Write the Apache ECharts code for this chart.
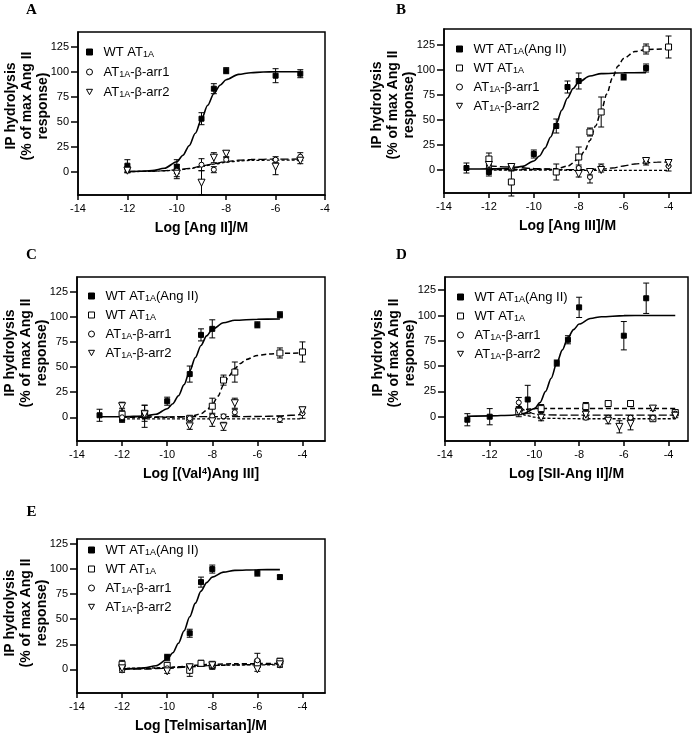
<!DOCTYPE html>
<html><head><meta charset="utf-8">
<script src="https://cdn.jsdelivr.net/npm/echarts@6/dist/echarts.min.js"></script>
<style>html,body{margin:0;padding:0;background:#fff}#c{width:693px;height:735px}</style>
</head><body><div id="c"></div><script>
// ---------- tick labels / text ----------
const xTickValues = [-14, -12, -10, -8, -6, -4];
const yTickValues = [0, 25, 50, 75, 100, 125];
const panelLetters = ['A', 'B', 'C', 'D', 'E'];
const xTitles = ['Log [Ang II]/M', 'Log [Ang III]/M', 'Log [(Val{sup|4})Ang III]', 'Log [SII-Ang II]/M', 'Log [Telmisartan]/M'];
const yTitle = 'IP hydrolysis\n(% of max Ang II\nresponse)';
const legendA = ['WT AT{s|1A}', 'AT{s|1A}-β-arr1', 'AT{s|1A}-β-arr2'];
const legendBE = ['WT AT{s|1A}(Ang II)', 'WT AT{s|1A}', 'AT{s|1A}-β-arr1', 'AT{s|1A}-β-arr2'];

// ---------- data: [log conc, mean, error] ----------
const A_wt   = [[-12,6,6],[-10,5,7],[-9,53,6],[-8.5,83,5],[-8,101,3],[-6,96,7],[-5,98,4]];
const A_arr1 = [[-12,2,3],[-10,1,6],[-9,7,6],[-8.5,2,3],[-8,12,2],[-6,12,3],[-5,15,4]];
const A_arr2 = [[-12,1,2],[-10,-2,5],[-9,-11,12],[-8.5,14,5],[-8,18,3],[-6,5,8],[-5,11,3]];

const B_wtAng = [[-13,2,5],[-12,-2,4],[-11,2,3],[-10,16,4],[-9,44,7],[-8.5,83,6],[-8,89,8],[-6,93,3],[-5,102,4]];
const B_wt    = [[-12,11,6],[-11,-12,14],[-9,-2,8],[-8,13,10],[-7.5,38,4],[-7,58,15],[-5,121,5],[-4,123,11]];
const B_arr1  = [[-12,4,2],[-11,2,2],[-8,2,3],[-7.5,-7,6],[-7,3,3],[-5,8,3],[-4,4,5]];
const B_arr2  = [[-12,5,3],[-11,3,2],[-8,-4,3],[-7.5,-2,3],[-7,0,2],[-5,9,2],[-4,7,3]];

const C_wtAng = [[-13,2,6],[-12,-2,3],[-11,1,11],[-10,16,4],[-9,43,8],[-8.5,82,6],[-8,88,9],[-6,92,3],[-5,102,3]];
const C_wt    = [[-12,3,6],[-11,4,8],[-9,-1,2],[-8,11,8],[-7.5,37,5],[-7,45,10],[-5,64,5],[-4,65,10]];
const C_arr1  = [[-12,0,2],[-11,2,2],[-9,-1,2],[-8,1,3],[-7.5,1,2],[-7,5,3],[-5,-2,3],[-4,4,5]];
const C_arr2  = [[-12,11,4],[-11,3,3],[-9,-9,3],[-8,-4,5],[-7.5,-9,4],[-7,14,5],[-4,7,3]];

const D_wtAng = [[-13,-3,6],[-12,0,8],[-10.3,17,14],[-9,53,3],[-8.5,76,4],[-8,108,10],[-6,80,14],[-5,117,15]];
const D_wt    = [[-10.7,5,5],[-9.7,8,4],[-7.7,10,4],[-6.7,13,3],[-5.7,13,3],[-4.7,-2,2],[-3.7,4,3]];
const D_arr1  = [[-10.7,14,5],[-9.7,1,3],[-7.7,-1,2],[-6.7,-1,2],[-5.7,-1,2],[-4.7,-1,2],[-3.7,3,2]];
const D_arr2  = [[-10.7,5,3],[-9.7,-1,3],[-7.7,2,3],[-6.7,-4,3],[-6.2,-10,6],[-5.7,-7,6],[-4.7,8,2],[-3.7,1,2]];

const E_wtAng = [[-12,1,2],[-10,12,3],[-9,36,4],[-8.5,87,5],[-8,100,4],[-6,96,3],[-5,92,2]];
const E_wt    = [[-12,5,4],[-10,4,3],[-9,-1,6],[-8.5,6,3],[-8,4,4],[-6,6,4],[-5,8,3]];
const E_arr1  = [[-12,-1,2],[-10,1,2],[-9,3,2],[-8,3,2],[-6,9,7],[-5,4,2]];
const E_arr2  = [[-12,1,2],[-10,-2,2],[-9,2,2],[-8,4,2],[-6,0,2],[-5,5,2]];

// ---------- fitted curves: [log conc, value] ----------
const A_wt_fit   = [[-12,0],[-11.5,0.4],[-11,1.1],[-10.5,3.4],[-10,10],[-9.75,16.5],[-9.5,26],[-9.25,38.5],[-9,52.5],[-8.75,66.5],[-8.5,78],[-8.25,86.5],[-8,92],[-7.5,97.3],[-7,99],[-6.5,99.7],[-6,100],[-5,100]];
const A_arr1_fit = [[-12,0.2],[-11,0.5],[-10.5,1],[-10,1.8],[-9.5,3.3],[-9,5.5],[-8.5,8],[-8,10.2],[-7.5,11.5],[-7,12.2],[-6,12.6],[-5,12.7]];
const A_arr2_fit = [[-12,0],[-11,0.4],[-10.5,0.9],[-10,1.6],[-9.5,3],[-9,5],[-8.5,7.5],[-8,9.5],[-7.5,10.7],[-7,11.3],[-6,11.6],[-5,11.7]];

const B_wtAng_fit = [[-13,1],[-12,1.1],[-11,1.8],[-10.5,3.6],[-10,9],[-9.75,14],[-9.5,22],[-9.25,33],[-9,46.5],[-8.75,60],[-8.5,72],[-8.25,81.5],[-8,88],[-7.5,94],[-7,96.4],[-6,97.2],[-5,97.4]];
const B_wt_fit    = [[-12,0.5],[-11,0.5],[-10,0.6],[-9,1.2],[-8.5,3.9],[-8,11],[-7.75,18.5],[-7.5,29.5],[-7.25,44],[-7,59],[-6.75,76],[-6.5,92],[-6.25,104],[-6,111.5],[-5.5,118.5],[-5,120.5],[-4,121.5]];
const B_arr1_fit  = [[-12,4],[-11,3],[-10,1.5],[-9,0.5],[-8,0.3],[-7,0.8],[-6.5,2],[-6,4],[-5.5,6],[-5,7.3],[-4.5,7.8],[-4,8]];
const B_arr2_fit  = [[-12,0],[-10,0],[-8,-0.3],[-6,-0.3],[-4,-0.3]];

const C_wtAng_fit = [[-13,0.5],[-12,0.6],[-11,1.3],[-10.5,3],[-10,8.5],[-9.75,13.5],[-9.5,21.5],[-9.25,32.5],[-9,46],[-8.75,59.5],[-8.5,71.5],[-8.25,81],[-8,87.5],[-7.5,94],[-7,96.5],[-6,97.6],[-5,97.8]];
const C_wt_fit    = [[-12,0],[-11,0],[-10,0.1],[-9,0.5],[-8.5,3.5],[-8.25,7],[-8,12.5],[-7.75,21],[-7.5,32],[-7.25,41.5],[-7,48.5],[-6.75,53.5],[-6.5,57.5],[-6,61.5],[-5.5,63],[-5,63.7],[-4,64]];
const C_arr1_fit  = [[-12,0.5],[-10,0.5],[-8,0.6],[-6,0.8],[-5,1.3],[-4.5,2],[-4,3]];
const C_arr2_fit  = [[-12,-1.5],[-10,-1.5],[-8,-1.5],[-6,-1.5],[-4,-1.5]];

const D_wtAng_fit = [[-13,0.5],[-12,0.8],[-11,1.5],[-10.5,3],[-10,8],[-9.75,14],[-9.5,25],[-9.25,38],[-9,53],[-8.75,66],[-8.5,78],[-8.25,86],[-8,91.5],[-7.5,97],[-7,98.8],[-6,99.8],[-5,100],[-3.7,100]];
const D_wt_fit    = [[-10.7,4],[-10.4,7],[-10,8],[-9,8],[-7,8],[-5,8],[-3.7,8]];
const D_arr1_fit  = [[-10.7,12],[-10.4,6],[-10,2.8],[-9.7,1.8],[-8,1.5],[-6,1.5],[-3.7,1.5]];
const D_arr2_fit  = [[-10.7,5],[-10.4,1.5],[-10,-0.5],[-9.7,-1.5],[-8,-2],[-6,-2],[-3.7,-2]];

const E_wtAng_fit = [[-12,0.5],[-11.5,0.8],[-11,1.5],[-10.5,3.6],[-10,10],[-9.75,16.5],[-9.5,26],[-9.25,38.5],[-9,52.5],[-8.75,66],[-8.5,78],[-8.25,86.5],[-8,92],[-7.5,97],[-7,98.7],[-6,99.4],[-5,99.5]];
const E_wt_fit    = [[-12,0.5],[-11,0.8],[-10,1.5],[-9.5,2.5],[-9,3.5],[-8.5,4.5],[-8,5],[-7,5.5],[-6,5.7],[-5,5.8]];
const E_arr1_fit  = [[-12,0],[-11,0.3],[-10,1],[-9,2.5],[-8,3.8],[-7,4.5],[-6,4.8],[-5,5]];
const E_arr2_fit  = [[-12,1],[-11,1.2],[-10,1.8],[-9,2.8],[-8,3.8],[-7,4.3],[-6,4.5],[-5,4.5]];

// ---------- assembly ----------
const FONT = '"Liberation Sans", Arial, Helvetica, sans-serif';
const kinds = {
  wtAng: {symbol: 'rect', size: 5, fill: '#000', dash: 'solid', width: 1.6, icon: 'rect'},
  wt:    {symbol: 'rect', size: 6, fill: '#fff', dash: [5, 3], width: 1.5, icon: 'rect'},
  arr1:  {symbol: 'circle', size: 5, fill: '#fff', dash: [8, 3], width: 1.3, icon: 'circle'},
  arr2:  {symbol: 'triangle', size: 7, rotate: 180, fill: '#fff', dash: [3, 2], width: 1.3, icon: 'path://M0,0L10,0L5,9Z'}
};
const panelSets = [
  [['wtAng', A_wt, A_wt_fit, legendA[0]], ['arr1', A_arr1, A_arr1_fit, legendA[1]], ['arr2', A_arr2, A_arr2_fit, legendA[2]]],
  [['wtAng', B_wtAng, B_wtAng_fit, legendBE[0]], ['wt', B_wt, B_wt_fit, legendBE[1]], ['arr1', B_arr1, B_arr1_fit, legendBE[2]], ['arr2', B_arr2, B_arr2_fit, legendBE[3]]],
  [['wtAng', C_wtAng, C_wtAng_fit, legendBE[0]], ['wt', C_wt, C_wt_fit, legendBE[1]], ['arr1', C_arr1, C_arr1_fit, legendBE[2]], ['arr2', C_arr2, C_arr2_fit, legendBE[3]]],
  [['wtAng', D_wtAng, D_wtAng_fit, legendBE[0]], ['wt', D_wt, D_wt_fit, legendBE[1]], ['arr1', D_arr1, D_arr1_fit, legendBE[2]], ['arr2', D_arr2, D_arr2_fit, legendBE[3]]],
  [['wtAng', E_wtAng, E_wtAng_fit, legendBE[0]], ['wt', E_wt, E_wt_fit, legendBE[1]], ['arr1', E_arr1, E_arr1_fit, legendBE[2]], ['arr2', E_arr2, E_arr2_fit, legendBE[3]]]
];
const layout = [
  {grid: {left: 78, top: 32, width: 247, height: 163}, x: [-14, -4], y: [-23.3, 139.7], leg: {left: 86, top: 45, gap: 6}, letter: [31.5, 10], yt: [27, 106]},
  {grid: {left: 444, top: 29, width: 247, height: 164}, x: [-14, -3], y: [-23, 141], leg: {left: 456, top: 42, gap: 5}, letter: [401, 10.5], yt: [393, 105]},
  {grid: {left: 77, top: 277, width: 248, height: 164}, x: [-14, -3], y: [-23.6, 139.6], leg: {left: 88, top: 289, gap: 5}, letter: [31.5, 254.7], yt: [26, 353]},
  {grid: {left: 445, top: 277, width: 243, height: 164}, x: [-14, -3.13], y: [-24, 138], leg: {left: 457, top: 290, gap: 5}, letter: [401.5, 254.7], yt: [394, 353]},
  {grid: {left: 77, top: 539, width: 248, height: 154}, x: [-14, -3], y: [-23.6, 130], leg: {left: 88, top: 543, gap: 5}, letter: [31.5, 512.5], yt: [26, 613]}
];

const labelMap = {};
const grids = [], xAxes = [], yAxes = [], legends = [], series = [], graphics = [];
const axisLineStyle = {color: '#000', width: 1.5};

function errRender(params, api) {
  const x = api.value(0), y = api.value(1), e = api.value(2);
  const p = api.coord([x, y + e]), q = api.coord([x, y - e]);
  const w = 3;
  const st = {stroke: '#000', lineWidth: 1};
  return {type: 'group', children: [
    {type: 'line', shape: {x1: p[0], y1: p[1], x2: q[0], y2: q[1]}, style: st},
    {type: 'line', shape: {x1: p[0] - w, y1: p[1], x2: p[0] + w, y2: p[1]}, style: st},
    {type: 'line', shape: {x1: q[0] - w, y1: q[1], x2: q[0] + w, y2: q[1]}, style: st}
  ]};
}

layout.forEach((L, i) => {
  grids.push(Object.assign({show: true, borderColor: '#000', borderWidth: 1.5, backgroundColor: 'transparent'}, L.grid));
  xAxes.push({
    type: 'value', gridIndex: i, min: L.x[0], max: L.x[1],
    axisLine: {show: true, onZero: false, lineStyle: axisLineStyle},
    axisTick: {show: true, length: 5, lineStyle: axisLineStyle, customValues: xTickValues},
    axisLabel: {color: '#000', fontSize: 11, fontFamily: FONT, margin: 8, customValues: xTickValues},
    splitLine: {show: false},
    name: xTitles[i], nameLocation: 'middle', nameGap: 26,
    nameTextStyle: {fontSize: 14, fontWeight: 'bold', color: '#000', fontFamily: FONT,
      rich: {sup: {fontSize: 9, fontWeight: 'bold', verticalAlign: 'top', fontFamily: FONT, color: '#000'}}}
  });
  yAxes.push({
    type: 'value', gridIndex: i, min: L.y[0], max: L.y[1],
    axisLine: {show: true, onZero: false, lineStyle: axisLineStyle},
    axisTick: {show: true, length: 7, lineStyle: axisLineStyle, customValues: yTickValues},
    axisLabel: {color: '#000', fontSize: 11, fontFamily: FONT, margin: 9, customValues: yTickValues},
    splitLine: {show: false}
  });
  const legData = [];
  panelSets[i].forEach((set, j) => {
    const [kindKey, pts, fit, label] = set;
    const k = kinds[kindKey];
    const name = panelLetters[i] + j;
    labelMap[name] = label;
    series.push({
      type: 'line', name: name + '_fit', xAxisIndex: i, yAxisIndex: i, data: fit,
      showSymbol: false, symbol: 'none', smooth: 0.3, smoothMonotone: 'x', silent: true, z: 2,
      lineStyle: {color: '#000', width: k.width, type: k.dash}
    });
    series.push({
      type: 'custom', name: name + '_err', xAxisIndex: i, yAxisIndex: i, data: pts,
      encode: {x: 0, y: 1}, renderItem: errRender, silent: true, z: 3
    });
    series.push({
      type: 'scatter', name: name, xAxisIndex: i, yAxisIndex: i, data: pts.map(p => [p[0], p[1]]),
      symbol: k.symbol, symbolSize: k.size, symbolRotate: k.rotate || 0, silent: true, z: 4,
      itemStyle: {color: k.fill, borderColor: '#000', borderWidth: 1, opacity: 1}
    });
    legData.push({name: name, icon: k.icon, symbolRotate: 0,
      itemStyle: {color: k.fill, borderColor: '#000', borderWidth: 1}});
  });
  legends.push({
    orient: 'vertical', left: L.leg.left, top: L.leg.top, itemGap: L.leg.gap,
    itemWidth: 6, itemHeight: 6, selectedMode: false, padding: 0,
    data: legData,
    formatter: n => labelMap[n],
    textStyle: {fontSize: 13, color: '#000', fontFamily: FONT, padding: [0, 0, 0, 6], lineHeight: 14,
      rich: {s: {fontSize: 9, verticalAlign: 'bottom', fontFamily: FONT, color: '#000', lineHeight: 14}}}
  });
  graphics.push({
    type: 'text', x: L.letter[0], y: L.letter[1], silent: true,
    style: {text: panelLetters[i], font: 'bold 15px "Liberation Serif", "Times New Roman", serif', fill: '#000', textAlign: 'center', textVerticalAlign: 'middle'}
  });
  graphics.push({
    type: 'text', x: L.yt[0], y: L.yt[1], rotation: Math.PI / 2, silent: true,
    style: {text: yTitle, font: 'bold 14px ' + FONT, fill: '#000', textAlign: 'center', textVerticalAlign: 'middle', lineHeight: 16}
  });
});

const chart = echarts.init(document.getElementById('c'), null, {renderer: 'canvas'});
chart.setOption({
  animation: false,
  backgroundColor: '#fff',
  grid: grids, xAxis: xAxes, yAxis: yAxes, legend: legends, series: series, graphic: graphics
});
</script></body></html>
